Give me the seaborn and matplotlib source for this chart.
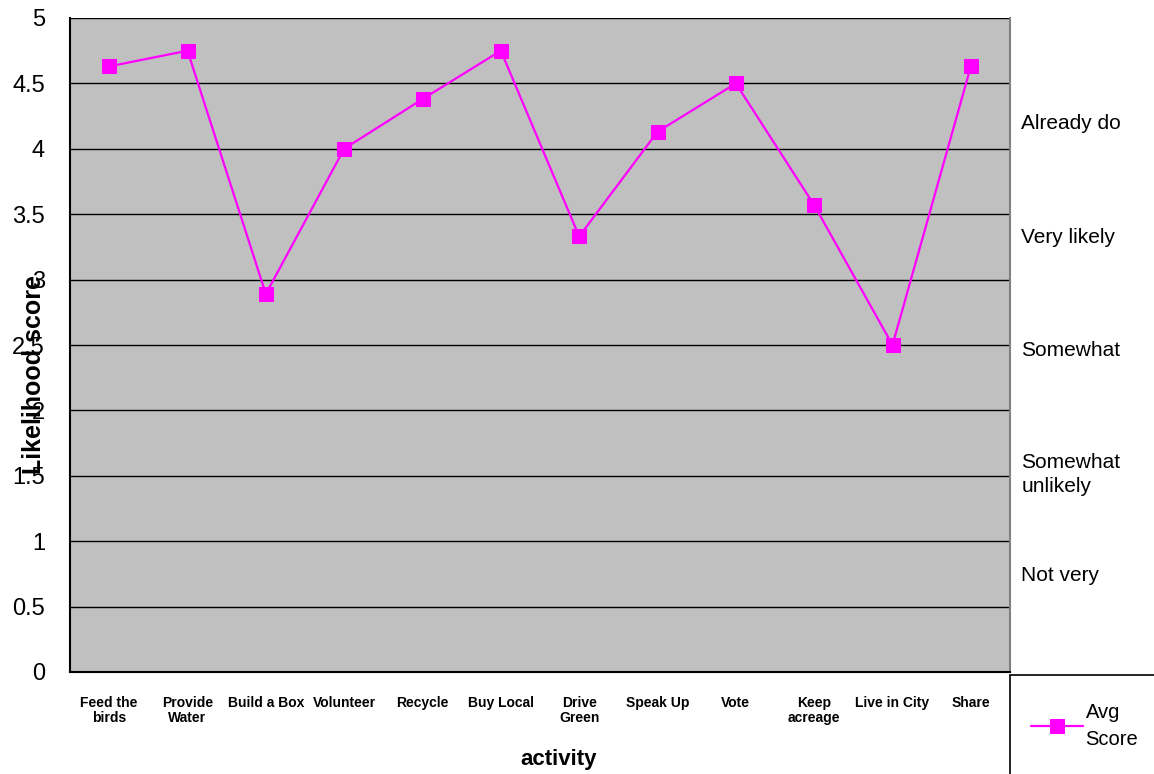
import numpy as np
import pandas as pd
import seaborn as sns
import matplotlib.pyplot as plt
from matplotlib.patches import Rectangle

# Chart data
activities = ["Feed the birds", "Provide Water", "Build a Box", "Volunteer", "Recycle",
              "Buy Local", "Drive Green", "Speak Up", "Vote", "Keep acreage",
              "Live in City", "Share"]
tick_labels = ["Feed the\nbirds", "Provide\nWater", "Build a Box", "Volunteer", "Recycle",
               "Buy Local", "Drive\nGreen", "Speak Up", "Vote", "Keep\nacreage",
               "Live in City", "Share"]
avg_score = [4.63, 4.75, 2.89, 4.0, 4.38, 4.75, 3.33, 4.13, 4.5, 3.57, 2.5, 4.63]

scale_labels = ["Already do", "Very likely", "Somewhat", "Somewhat\nunlikely", "Not very"]
scale_y = [4.19, 3.32, 2.46, 1.51, 0.74]

data = pd.DataFrame({"activity": activities, "Avg Score": avg_score})

sns.set_style("white")
plt.rcParams["font.family"] = ["Liberation Sans", "DejaVu Sans"]
plt.rcParams["text.color"] = "black"
plt.rcParams["xtick.color"] = "black"
plt.rcParams["ytick.color"] = "black"
plt.rcParams["axes.labelcolor"] = "black"

fig = plt.figure(figsize=(11.54, 7.74), dpi=100)
ax = fig.add_axes([70 / 1154, 1 - 672 / 774, 940 / 1154, 654 / 774])
ax.set_facecolor("#c0c0c0")

sns.lineplot(data=data, x="activity", y="Avg Score", sort=False, ax=ax,
             color="#ff00ff", linewidth=1.6, marker="s", markersize=10.5,
             markeredgecolor="#ff00ff", label="Avg\nScore")

ax.set_ylim(0, 5)
ax.set_xlim(-0.5, len(activities) - 0.5)
ax.set_yticks(np.arange(0, 5.01, 0.5))
ax.set_yticklabels(["0", "0.5", "1", "1.5", "2", "2.5", "3", "3.5", "4", "4.5", "5"])
ax.yaxis.grid(True, color="black", linewidth=1)
ax.set_axisbelow(True)

ax.set_xticks(range(len(activities)))
ax.set_xticklabels(tick_labels, fontsize=10, fontweight="bold", linespacing=1.15)
ax.set_xticks(np.arange(-0.5, len(activities), 1), minor=True)
ax.tick_params(axis="x", which="major", length=0, pad=17)
ax.tick_params(axis="x", which="minor", length=6, width=1.5, color="black", direction="out")
ax.tick_params(axis="y", length=7, width=1.5, color="black", direction="out", labelsize=17, pad=11)

for side in ["left", "bottom"]:
    ax.spines[side].set_color("black")
    ax.spines[side].set_linewidth(1.5)
ax.spines["right"].set_color("#808080")
ax.spines["right"].set_linewidth(1.5)
ax.spines["top"].set_visible(False)

ax.set_xlabel("activity", fontsize=16, fontweight="bold")
ax.xaxis.set_label_coords(0.52, -0.118)
ax.set_ylabel("Likelihood score", fontsize=18, fontweight="bold")
ax.yaxis.set_label_coords(-0.026, 0.455)

# scale descriptions on the right
for txt, yv in zip(scale_labels, scale_y):
    ax.text(1.012, yv, txt, transform=ax.get_yaxis_transform(), fontsize=15,
            va="center", ha="left", linespacing=1.3, clip_on=False)

# legend box in the lower right corner
fig.patches.append(Rectangle((1010 / 1154, -0.05), 0.2, 1 - 675 / 774 + 0.05,
                             transform=fig.transFigure, fill=False,
                             edgecolor="black", linewidth=1.2))
ax.legend(loc="center left", bbox_to_anchor=(1013 / 1154, 1 - 726 / 774),
          bbox_transform=fig.transFigure, frameon=False, fontsize=14.5,
          handlelength=2.6, handletextpad=0.1, labelspacing=0.2)
for t in ax.get_legend().get_texts():
    t.set_linespacing(1.5)

fig.savefig("out.png", dpi=100)
